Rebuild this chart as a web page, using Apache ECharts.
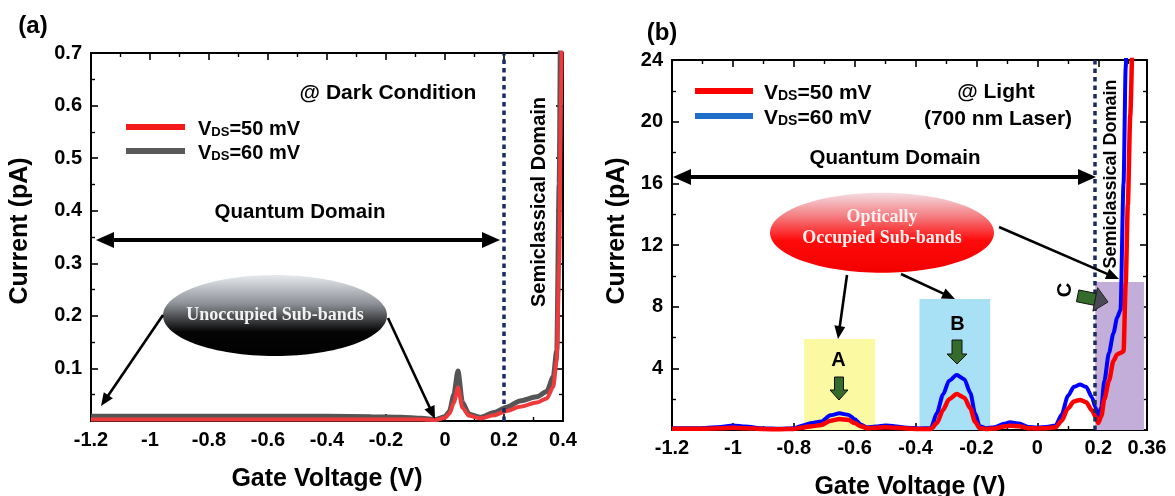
<!DOCTYPE html>
<html><head><meta charset="utf-8">
<script src="https://cdn.jsdelivr.net/npm/echarts@6/dist/echarts.min.js"></script>
<style>html,body{margin:0;padding:0;background:#fff}#c{width:1175px;height:496px}</style>
</head><body><div id="c"></div>
<script>
// ---------- DATA ----------
// Panel (a): dark condition
const gateA = [-1.2, -1.0, -0.8, -0.6, -0.4, -0.25, -0.15, -0.08, -0.03, 0.0, 0.015, 0.03, 0.044, 0.059, 0.082, 0.12, 0.166, 0.209, 0.254, 0.311, 0.345, 0.367, 0.379, 0.387, 0.393, 0.397];
const darkRed50 = [0.003, 0.003, 0.003, 0.003, 0.003, 0.003, 0.003, 0.003, 0.002, 0.006, 0.014, 0.035, 0.064, 0.025, 0.01, 0.005, 0.011, 0.019, 0.027, 0.035, 0.043, 0.065, 0.116, 0.3, 0.6, 0.8];
const darkGray60 = [0.009, 0.009, 0.009, 0.009, 0.009, 0.008, 0.007, 0.005, 0.003, 0.008, 0.018, 0.05, 0.095, 0.035, 0.013, 0.007, 0.016, 0.026, 0.038, 0.046, 0.056, 0.084, 0.135, 0.45, 0.85, 1.0];
// Panel (b): light (700 nm laser)
const gateB = [-1.2, -1.1, -1.04, -1.0, -0.96, -0.9, -0.85, -0.8, -0.77, -0.74, -0.71, -0.68, -0.65, -0.62, -0.6, -0.58, -0.56, -0.53, -0.5, -0.47, -0.43, -0.39, -0.35, -0.33, -0.31, -0.29, -0.265, -0.24, -0.22, -0.205, -0.19, -0.17, -0.14, -0.11, -0.09, -0.06, -0.03, 0.0, 0.03, 0.06, 0.08, 0.1, 0.12, 0.14, 0.16, 0.18, 0.19, 0.2, 0.21, 0.22, 0.235, 0.25, 0.262, 0.273, 0.283, 0.29, 0.297, 0.305, 0.312];
const lightBlue60 = [0.12, 0.12, 0.2, 0.3, 0.22, 0.1, 0.08, 0.12, 0.3, 0.45, 0.55, 0.95, 1.08, 0.98, 0.7, 0.35, 0.18, 0.22, 0.3, 0.25, 0.15, 0.1, 0.12, 1.1, 2.3, 3.2, 3.57, 3.3, 2.4, 1.1, 0.25, 0.12, 0.18, 0.4, 0.5, 0.42, 0.2, 0.15, 0.2, 0.3, 1.0, 2.2, 2.8, 2.95, 2.8, 2.1, 1.5, 0.85, 1.5, 3.2, 5.0, 6.3, 7.3, 7.8, 16, 23.5, 30, 36, 42];
const lightRed50 = [0.08, 0.08, 0.12, 0.15, 0.12, 0.06, 0.05, 0.07, 0.17, 0.25, 0.32, 0.6, 0.71, 0.65, 0.45, 0.25, 0.12, 0.14, 0.18, 0.15, 0.1, 0.06, 0.07, 0.45, 1.3, 2.0, 2.33, 2.1, 1.4, 0.55, 0.12, 0.07, 0.1, 0.22, 0.28, 0.24, 0.12, 0.1, 0.12, 0.18, 0.6, 1.4, 1.85, 1.95, 1.8, 1.25, 0.9, 0.45, 0.9, 2.0, 3.2, 4.5, 4.9, 5.0, 5.1, 9.5, 14.6, 20.4, 25.5];
// Axis ranges [min, max, interval]
const xAxisA = [-1.2, 0.4, 0.2];
const yAxisA = [0, 0.7, 0.1];
const xAxisB = [-1.2, 0.36, 0.2];
const yAxisB = [0, 24, 4];
// Domain boundaries and highlighted sub-band regions [xStart, xEnd, yTop]
const boundaryA = 0.2;
const boundaryB = 0.19;
const regionA = [-0.766, -0.533, 5.9];
const regionB = [-0.387, -0.155, 8.5];
const regionC = [0.19, 0.35, 9.6];
const legendA = ['50', '60'];
const legendB = ['50', '60'];

// ---------- CHART ----------
const SANS = '"Liberation Sans", Arial, sans-serif';
const SERIF = '"Liberation Serif", "Times New Roman", serif';
const chart = echarts.init(document.getElementById('c'), null, {renderer: 'canvas'});

function pair(arrX, arrY) { return arrX.map((x, i) => [x, arrY[i]]); }

function axisCommon(range, showLabel, pos, gridIndex, margin, hideZero) {
  return {
    type: 'value', gridIndex, position: pos,
    min: range[0], max: range[1], interval: range[2],
    axisLine: {show: true, onZero: false, lineStyle: {color: '#000', width: 2}},
    axisTick: {show: true, inside: true, length: 7, lineStyle: {color: '#000', width: 1.6}},
    minorTick: {show: true, splitNumber: 2, length: 4, lineStyle: {color: '#000', width: 1.4}},
    splitLine: {show: false},
    axisLabel: {
      show: showLabel, color: '#000', fontFamily: SANS, fontWeight: 'bold', fontSize: 20,
      margin: margin, showMinLabel: true, showMaxLabel: true, hideOverlap: false,
      formatter: v => (hideZero && Math.abs(v) < 1e-9) ? '' : String(+v.toFixed(2))
    }
  };
}

const gridA = {left: 91, top: 53, width: 472, height: 368};
const gridB = {left: 672, top: 60, width: 475, height: 370};

// ---------- graphics helpers ----------
function arrowEls(x1, y1, x2, y2, lw, hl, hw, both) {
  const dx = x2 - x1, dy = y2 - y1, L = Math.hypot(dx, dy);
  const ux = dx / L, uy = dy / L, px = -uy, py = ux;
  const head = (tx, ty, s) => ({
    type: 'polygon', z: 50,
    shape: {points: [[tx, ty],
      [tx - s * ux * hl + px * hw / 2, ty - s * uy * hl + py * hw / 2],
      [tx - s * ux * hl - px * hw / 2, ty - s * uy * hl - py * hw / 2]]},
    style: {fill: '#000'}
  });
  const sx = both ? x1 + ux * hl * 0.8 : x1, sy = both ? y1 + uy * hl * 0.8 : y1;
  const els = [{type: 'line', z: 50, shape: {x1: sx, y1: sy, x2: x2 - ux * hl * 0.8, y2: y2 - uy * hl * 0.8},
    style: {stroke: '#000', lineWidth: lw}}, head(x2, y2, 1)];
  if (both) els.push(head(x1, y1, -1));
  return els;
}
function blockArrow(tx, ty, ang, len, sw, hl, hw, fill, headFill) {
  const c = Math.cos(ang), s = Math.sin(ang);
  const T = p => [tx + p[0] * c - p[1] * s, ty + p[0] * s + p[1] * c];
  const shaft = [[-len, -sw / 2], [-hl, -sw / 2], [-hl, sw / 2], [-len, sw / 2]].map(T);
  const head = [[-hl, -hw / 2], [0, 0], [-hl, hw / 2]].map(T);
  if (!headFill) {
    const pts = [[-len, -sw / 2], [-hl, -sw / 2], [-hl, -hw / 2], [0, 0], [-hl, hw / 2], [-hl, sw / 2], [-len, sw / 2]].map(T);
    return [{type: 'polygon', z: 60, shape: {points: pts}, style: {fill: fill, stroke: '#111', lineWidth: 1}}];
  }
  return [
    {type: 'polygon', z: 60, shape: {points: shaft}, style: {fill: fill, stroke: '#111', lineWidth: 1}},
    {type: 'polygon', z: 60, shape: {points: head}, style: {fill: headFill, stroke: '#222', lineWidth: 1}}
  ];
}
function txt(x, y, text, size, opts) {
  opts = opts || {};
  return {type: 'text', z: 70, x: x, y: y, rotation: opts.rot || 0,
    style: {text: text, fill: opts.fill || '#000', align: opts.align || 'center', verticalAlign: 'middle',
      font: 'bold ' + size + 'px ' + (opts.family || SANS)}};
}
function legendText(x, y, mv, size) {
  return {type: 'text', z: 70, x: x, y: y,
    style: {text: '{v|V}{s|DS}{v|=' + mv + ' mV}', verticalAlign: 'middle', align: 'left',
      rich: {
        v: {fontFamily: SANS, fontWeight: 'bold', fontSize: size, lineHeight: size + 4, verticalAlign: 'bottom', fill: '#000'},
        s: {fontFamily: SANS, fontWeight: 'bold', fontSize: Math.round(size * 0.66), lineHeight: 10, verticalAlign: 'bottom', fill: '#000'}
      }}};
}
function legendLine(x1, x2, y, color) {
  return {type: 'line', z: 70, shape: {x1: x1, y1: y, x2: x2, y2: y}, style: {stroke: color, lineWidth: 6}};
}

const graphics = [].concat(
  [txt(33, 26, '(a)', 24), txt(662, 33, '(b)', 24)],
  [txt(20, 231, 'Current (pA)', 25, {rot: Math.PI / 2}), txt(617, 231, 'Current (pA)', 25, {rot: Math.PI / 2})],
  [txt(327, 479, 'Gate Voltage (V)', 25), txt(910, 487, 'Gate Voltage (V)', 25)],
  // panel a annotations
  [txt(388, 93, '@ Dark Condition', 21)],
  [legendLine(126, 185, 127, '#f51a1a'), legendLine(126, 185, 151, '#5a5a5a'),
   legendText(198, 127, legendA[0], 20), legendText(198, 151, legendA[1], 20)],
  [txt(300, 212, 'Quantum Domain', 20.5)],
  arrowEls(96, 240, 500, 240, 4, 18, 16, true),
  [txt(539, 202, 'Semiclassical Domain', 20, {rot: Math.PI / 2})],
  [{type: 'ellipse', z: 40, shape: {cx: 275, cy: 315.5, rx: 112, ry: 40.5},
    style: {fill: new echarts.graphic.LinearGradient(0, 0, 0, 1, [
      {offset: 0, color: '#e6eaee'}, {offset: 0.35, color: '#8f9399'}, {offset: 0.7, color: '#050505'}, {offset: 1, color: '#000'}])}},
   txt(275, 315, 'Unoccupied Sub-bands', 18, {family: SERIF, fill: '#f2f2f2'})],
  arrowEls(163, 315, 101, 406, 2.6, 13, 11, false),
  arrowEls(388, 318, 435, 419, 2.6, 13, 11, false),
  // panel b annotations
  [legendLine(695, 753, 91, '#ff0000'), legendLine(695, 753, 116, '#1f6fc8'),
   legendText(764, 91, legendB[0], 21), legendText(764, 116, legendB[1], 21)],
  [txt(996, 92, '@ Light', 21), txt(998, 119, '(700 nm Laser)', 21)],
  [txt(895, 158, 'Quantum Domain', 20.5)],
  arrowEls(673, 177, 1096, 177, 4, 18, 16, true),
  [txt(1111, 174, 'Semiclassical Domain', 18, {rot: Math.PI / 2})],
  [{type: 'ellipse', z: 40, shape: {cx: 882, cy: 232.7, rx: 112, ry: 40},
    style: {fill: new echarts.graphic.LinearGradient(0, 0, 0, 1, [
      {offset: 0, color: '#f4dde2'}, {offset: 0.3, color: '#f47c80'}, {offset: 0.6, color: '#ff0a0a'}, {offset: 1, color: '#f20000'}])}},
   txt(882, 217, 'Optically', 18, {family: SERIF, fill: '#fdf0f0'}),
   txt(882, 238.5, 'Occupied Sub-bands', 18, {family: SERIF, fill: '#fdf0f0'})],
  arrowEls(847, 275, 838, 339, 2.6, 13, 11, false),
  arrowEls(901, 274, 955, 299, 2.6, 13, 11, false),
  arrowEls(999, 227, 1119, 279, 2.6, 13, 11, false),
  [txt(838.5, 360, 'A', 20), txt(957.5, 324, 'B', 20), txt(1065, 290, 'C', 20, {rot: Math.PI / 2})],
  blockArrow(839, 400, Math.PI / 2, 23, 9, 10, 18, '#356b2b'),
  blockArrow(957, 364, Math.PI / 2, 24, 10, 10, 20, '#356b2b'),
  blockArrow(1108, 302, 0.2, 31, 12, 13, 24, '#356b2b', '#4a4a55')
);

function region(r, color) {
  return [{xAxis: r[0], yAxis: 0, itemStyle: {color: color}}, {xAxis: r[1], yAxis: r[2]}];
}

const option = {
  backgroundColor: '#fff',
  animation: false,
  grid: [Object.assign({}, gridA), Object.assign({}, gridB)],
  xAxis: [
    axisCommon(xAxisA, true, 'bottom', 0, 9, false),
    axisCommon(xAxisA, false, 'top', 0, 9, false),
    axisCommon(xAxisB, true, 'bottom', 1, 8, false),
    axisCommon(xAxisB, false, 'top', 1, 8, false)
  ],
  yAxis: [
    axisCommon(yAxisA, true, 'left', 0, 9, true),
    axisCommon(yAxisA, false, 'right', 0, 9, true),
    axisCommon(yAxisB, true, 'left', 1, 9, true),
    axisCommon(yAxisB, false, 'right', 1, 9, true)
  ],
  series: [
    {type: 'line', name: 'bg-b', xAxisIndex: 2, yAxisIndex: 2, data: [], z: 1, silent: true,
      markArea: {silent: true, z: 1, data: [region(regionA, '#fbfaa2'), region(regionB, '#a8e0f5'), region(regionC, '#c2aed8')]}},
    {type: 'line', name: 'dark60', xAxisIndex: 0, yAxisIndex: 0, data: pair(gateA, darkGray60),
      showSymbol: false, smooth: 0.25, smoothMonotone: 'x', z: 3,
      lineStyle: {color: '#555555', width: 5}},
    {type: 'line', name: 'dark50', xAxisIndex: 0, yAxisIndex: 0, data: pair(gateA, darkRed50),
      showSymbol: false, smooth: 0.25, smoothMonotone: 'x', z: 4,
      lineStyle: {color: '#ee3a3a', width: 4},
      markLine: {silent: true, symbol: 'none', label: {show: false}, z: 5,
        lineStyle: {color: '#1c2a64', width: 3.5, type: [4.5, 4]}, data: [{xAxis: boundaryA}]}},
    {type: 'line', name: 'light60', xAxisIndex: 2, yAxisIndex: 2, data: pair(gateB, lightBlue60),
      showSymbol: false, smooth: 0.25, smoothMonotone: 'x', z: 3,
      lineStyle: {color: '#0000ff', width: 4}},
    {type: 'line', name: 'light50', xAxisIndex: 2, yAxisIndex: 2, data: pair(gateB, lightRed50),
      showSymbol: false, smooth: 0.25, smoothMonotone: 'x', z: 4,
      lineStyle: {color: '#ff0000', width: 4.5},
      markLine: {silent: true, symbol: 'none', label: {show: false}, z: 5,
        lineStyle: {color: '#1c2a64', width: 3.5, type: [4.5, 4]}, data: [{xAxis: boundaryB}]}}
  ],
  graphic: {elements: graphics}
};
chart.setOption(option);
</script></body></html>
